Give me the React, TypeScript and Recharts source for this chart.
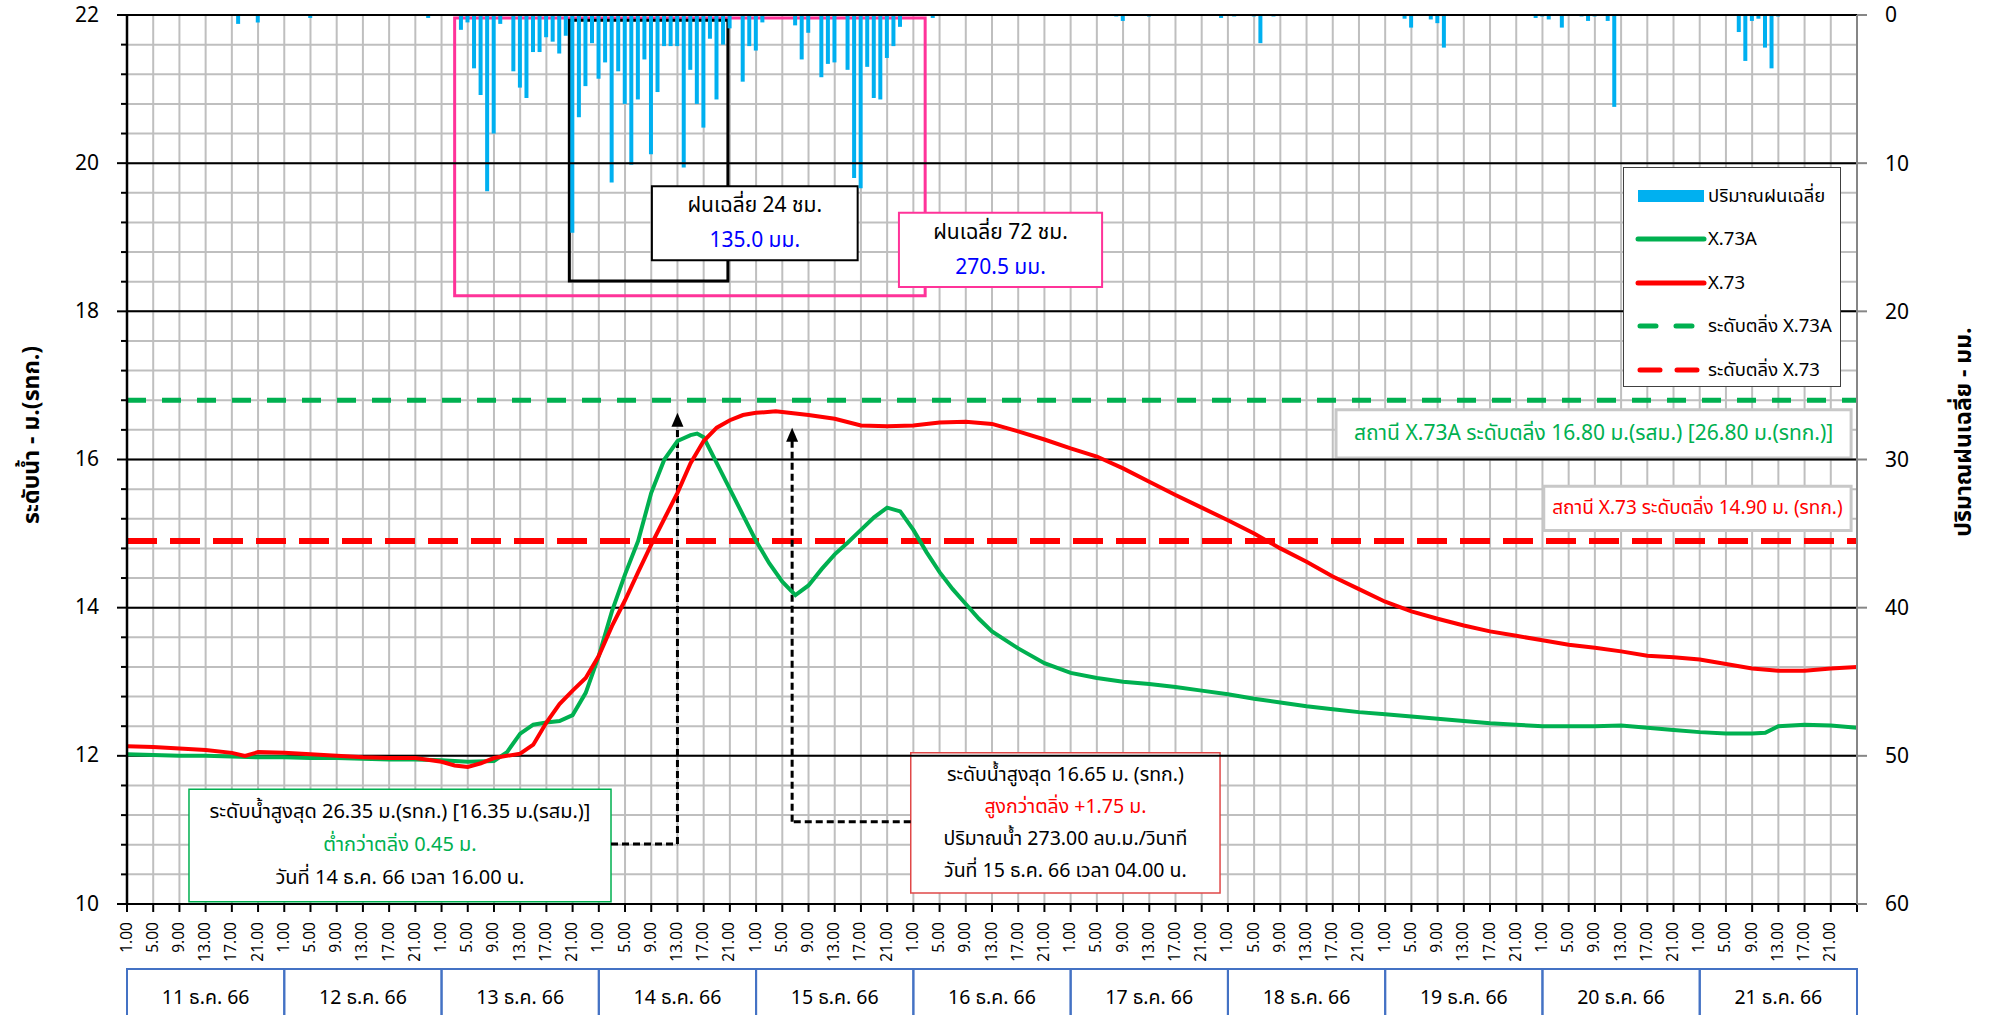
import {
  Bar,
  CartesianGrid,
  ComposedChart,
  Legend,
  Line,
  ReferenceArea,
  ReferenceDot,
  ReferenceLine,
  XAxis,
  YAxis
} from 'recharts'

// hourly x axis: 0 = 11 ธ.ค. 66 01.00, 264 = 22 ธ.ค. 66 01.00
const HOURS = 264

const dayLabels = [
  '11 ธ.ค. 66',
  '12 ธ.ค. 66',
  '13 ธ.ค. 66',
  '14 ธ.ค. 66',
  '15 ธ.ค. 66',
  '16 ธ.ค. 66',
  '17 ธ.ค. 66',
  '18 ธ.ค. 66',
  '19 ธ.ค. 66',
  '20 ธ.ค. 66',
  '21 ธ.ค. 66'
]

// rainfall (mm), only the hours with rain
const rainHours = [
  17, 20, 28, 46, 51, 52, 53, 54, 55, 56, 57, 59, 60, 61, 62, 63, 64, 65, 66, 67, 68, 69, 70, 71, 72,
  73, 74, 75, 76, 77, 78, 79, 80, 81, 82, 83, 84, 85, 86, 87, 88, 89, 90, 91, 92, 94, 95, 96, 97, 102,
  103, 104, 106, 107, 108, 110, 111, 112, 113, 114, 115, 116, 117, 118, 123, 151, 152, 156, 167, 169,
  172, 173, 175, 195, 196, 199, 200, 201, 215, 216, 217, 219, 222, 223, 224, 226, 227, 246, 247, 248,
  249, 250, 251, 252
]
const rainMm = [
  0.6, 0.5, 0.2, 0.2, 1.0, 0.5, 3.6, 5.4, 11.9, 8.0, 0.6, 3.8, 4.9, 5.6, 2.5, 2.5, 1.5, 1.8, 2.6, 1.4,
  14.7, 6.9, 4.8, 1.9, 4.3, 3.2, 11.3, 3.8, 6.0, 10.1, 5.7, 3.0, 9.4, 5.2, 2.1, 2.1, 2.1, 10.3, 3.7, 6.0,
  7.6, 1.6, 5.7, 2.0, 0.9, 4.5, 2.1, 2.4, 0.5, 0.7, 3.0, 1.2, 4.2, 3.3, 3.2, 3.7, 11.0, 11.7, 3.5, 5.6,
  5.7, 2.9, 2.1, 0.8, 0.2, 0.1, 0.4, 0.1, 0.2, 0.1, 0.1, 1.9, 0.1, 0.25, 0.85, 0.3, 0.55, 2.2, 0.2, 0.1,
  0.3, 0.85, 0.1, 0.4, 0.1, 0.4, 6.2, 1.15, 3.1, 0.4, 0.25, 2.2, 3.6, 0.1
]

// X.73A water level (m)
const greenHours = [
  0, 4, 8, 12, 16, 20, 24, 28, 32, 36, 40, 44, 48, 52, 56, 58, 60, 62, 64, 66, 68, 70, 72, 74, 76, 78,
  80, 82, 84, 86, 87, 88, 90, 92, 94, 96, 98, 100, 102, 104, 106, 108, 110, 112, 114, 116, 118, 120,
  122, 124, 126, 128, 130, 132, 136, 140, 144, 148, 152, 156, 160, 164, 168, 172, 176, 180, 184, 188,
  192, 196, 200, 204, 208, 212, 216, 220, 224, 228, 232, 236, 240, 244, 248, 250, 252, 256, 260, 264
]
const greenLevels = [
  12.02, 12.01, 12.0, 12.0, 11.99, 11.98, 11.98, 11.97, 11.97, 11.96, 11.95, 11.95, 11.94, 11.92,
  11.93, 12.05, 12.3, 12.42, 12.45, 12.47, 12.55, 12.85, 13.35, 13.95, 14.45, 14.9, 15.55, 16.0, 16.25,
  16.33, 16.35, 16.3, 15.95, 15.6, 15.25, 14.9, 14.6, 14.35, 14.17, 14.3, 14.52, 14.72, 14.88, 15.05,
  15.22, 15.35, 15.3, 15.05, 14.75, 14.48, 14.25, 14.05, 13.85, 13.68, 13.45, 13.25, 13.12, 13.05,
  13.0, 12.97, 12.93, 12.88, 12.83, 12.77, 12.72, 12.67, 12.63, 12.59, 12.56, 12.53, 12.5, 12.47,
  12.44, 12.42, 12.4, 12.4, 12.4, 12.41, 12.38, 12.35, 12.32, 12.3, 12.3, 12.31, 12.4, 12.42, 12.41,
  12.38
]

// X.73 water level (m)
const redHours = [
  0, 4, 8, 12, 16, 18, 20, 24, 28, 32, 36, 40, 44, 48, 50, 52, 54, 56, 60, 62, 64, 66, 68, 70, 72, 74,
  76, 78, 80, 82, 84, 86, 88, 90, 92, 94, 96, 99, 102, 104, 108, 112, 116, 120, 124, 128, 132, 136,
  140, 144, 148, 152, 156, 160, 164, 168, 172, 176, 180, 184, 188, 192, 196, 200, 204, 208, 212, 216,
  220, 224, 228, 232, 236, 240, 244, 248, 252, 256, 260, 264
]
const redLevels = [
  12.13, 12.12, 12.1, 12.08, 12.04, 12.0, 12.05, 12.04, 12.02, 12.0, 11.98, 11.97, 11.97, 11.92,
  11.87, 11.85, 11.9, 11.97, 12.03, 12.15, 12.45, 12.7, 12.88, 13.05, 13.35, 13.75, 14.1, 14.48,
  14.85, 15.2, 15.55, 15.95, 16.25, 16.43, 16.53, 16.6, 16.63, 16.65, 16.62, 16.6, 16.55, 16.46,
  16.45, 16.46, 16.5, 16.51, 16.48, 16.38, 16.27, 16.15, 16.04, 15.88, 15.7, 15.52, 15.35, 15.18,
  15.0, 14.8, 14.62, 14.42, 14.25, 14.08, 13.95, 13.85, 13.76, 13.68, 13.62, 13.56, 13.5, 13.46,
  13.41, 13.35, 13.33, 13.3, 13.24, 13.18, 13.15, 13.15, 13.18, 13.2
]

const bankX73A = 16.8
const bankX73 = 14.9

const hourTicks = Array.from({ length: HOURS / 4 + 1 }, (_, k) => k * 4)
const dayTicks = dayLabels.map((_, k) => k * 24 + 12)
const levelTicks = Array.from({ length: 31 }, (_, k) => Math.round((10 + k * 0.4) * 10) / 10)
const majorLevels = [12, 14, 16, 18, 20, 22]
const rainTicks = [0, 10, 20, 30, 40, 50, 60]

const rows = Array.from({ length: HOURS + 1 }, (_, i) => ({
  i,
  rain: null as number | null,
  x73a: null as number | null,
  x73: null as number | null
}))
rainHours.forEach((h, k) => (rows[h].rain = rainMm[k]))
greenHours.forEach((h, k) => (rows[h].x73a = greenLevels[k]))
redHours.forEach((h, k) => (rows[h].x73 = redLevels[k]))

const WIDTH = 1991
const HEIGHT = 1015
const MARGIN = { top: 15, right: 14, bottom: 0, left: 27 }
const LEFT_W = 100
const RIGHT_W = 120
const PLOT_W = WIDTH - MARGIN.left - MARGIN.right - LEFT_W - RIGHT_W

// axis ids: the hour axis must sort before the day axis so it sits next to the plot
const HX = 'a_hours'
const DX = 'b_days'

const GREEN = '#00B050'
const RED = '#FF0000'
const RAIN = '#00B0F0'
const PINK = '#FF3399'
const BLUE = '#0000FF'
const FONT = "Tahoma, 'Noto Sans Thai', 'Noto Sans', 'DejaVu Sans', sans-serif"

const LeftTick = ({ x, y, payload }: any) => {
  const v = payload.value
  const major = Math.abs(v - Math.round(v)) < 1e-6 && Math.round(v) % 2 === 0
  return (
    <g>
      <line x1={x - (major ? 10 : 6)} x2={x} y1={y} y2={y} stroke="#000" strokeWidth={2} />
      {major && (
        <text x={x - 28} y={y} textAnchor="end" dominantBaseline="central" fontSize={21} fill="#000">
          {v}
        </text>
      )}
    </g>
  )
}

const HourTick = ({ x, y, payload }: any) => {
  const v = payload.value
  if (v >= HOURS) return null
  const ty = y + 8
  return (
    <text
      x={x}
      y={ty}
      transform={`rotate(-90, ${x}, ${ty})`}
      textAnchor="end"
      dominantBaseline="central"
      fontSize={15.5}
      fill="#000"
    >
      {`${(v % 24) + 1}.00`}
    </text>
  )
}

const DayTick = ({ x, y, index }: any) => {
  const w = PLOT_W / dayLabels.length
  return (
    <g>
      <rect x={x - w / 2} y={y} width={w} height={70} fill="none" stroke="#4472C4" strokeWidth={2} />
      <text x={x} y={y + 29} textAnchor="middle" dominantBaseline="central" fontSize={19.5} fill="#000">
        {dayLabels[index]}
      </text>
    </g>
  )
}

const AxisTitle = ({ viewBox, text, dx, cy }: any) => {
  const cx = viewBox.x + dx
  return (
    <text
      x={cx}
      y={cy}
      transform={`rotate(-90, ${cx}, ${cy})`}
      textAnchor="middle"
      dominantBaseline="central"
      fontSize={23}
      fontWeight="bold"
      fill="#000"
    >
      {text}
    </text>
  )
}

const BoxText = ({ viewBox, lines, fontSize = 18, gap = 32 }: any) => {
  const { x, y, width, height } = viewBox
  const cx = x + width / 2
  const start = y + height / 2 - ((lines.length - 1) * gap) / 2
  return (
    <g>
      {lines.map((l: any, k: number) => (
        <text
          key={k}
          x={cx}
          y={start + k * gap}
          textAnchor="middle"
          dominantBaseline="central"
          fontSize={fontSize}
          fill={l.color}
        >
          {l.text}
        </text>
      ))}
    </g>
  )
}

const ArrowUp = ({ cx, cy }: any) => (
  <path d={`M${cx},${cy} L${cx - 6},${cy + 14} L${cx + 6},${cy + 14} Z`} fill="#000" />
)

const legendItems = [
  { name: 'ปริมาณฝนเฉลี่ย', color: RAIN, kind: 'bar' },
  { name: 'X.73A', color: GREEN, kind: 'line' },
  { name: 'X.73', color: RED, kind: 'line' },
  { name: 'ระดับตลิ่ง X.73A', color: GREEN, kind: 'dash' },
  { name: 'ระดับตลิ่ง X.73', color: RED, kind: 'dash' }
]

const LegendBox = () => (
  <div
    style={{
      width: 218,
      height: 220,
      boxSizing: 'border-box',
      border: '1.5px solid #404040',
      background: '#fff',
      fontFamily: FONT,
      fontSize: 18.5,
      color: '#000',
      paddingTop: 6
    }}
  >
    {legendItems.map((it) => (
      <div key={it.name} style={{ display: 'flex', alignItems: 'center', height: 43.5, whiteSpace: 'nowrap' }}>
        <svg width={84} height={14} style={{ marginLeft: 10, flexShrink: 0 }}>
          {it.kind === 'bar' && <rect x={4} y={1} width={66} height={12} fill={it.color} />}
          {it.kind === 'line' && (
            <line x1={4} x2={70} y1={7} y2={7} stroke={it.color} strokeWidth={5} strokeLinecap="round" />
          )}
          {it.kind === 'dash' && (
            <line
              x1={6}
              x2={70}
              y1={7}
              y2={7}
              stroke={it.color}
              strokeWidth={5}
              strokeLinecap="round"
              strokeDasharray={it.color === GREEN ? '16 20' : '20 17'}
            />
          )}
        </svg>
        <span style={{ marginLeft: -10 }}>{it.name}</span>
      </div>
    ))}
  </div>
)

const App = () => {
  return (
    <div style={{ position: 'absolute', left: 0, top: 0, fontFamily: FONT, background: '#fff' }}>
      <ComposedChart width={WIDTH} height={HEIGHT} data={rows} margin={MARGIN}>
        <CartesianGrid xAxisId={HX} yAxisId="left" stroke="#BFBFBF" strokeWidth={2} />
        <XAxis
          xAxisId={HX}
          type="number"
          dataKey="i"
          domain={[0, HOURS]}
          ticks={hourTicks}
          interval={0}
          allowDataOverflow
          height={65}
          stroke="#000"
          strokeWidth={2}
          tickSize={8}
          tick={<HourTick />}
        />
        <XAxis
          xAxisId={DX}
          type="number"
          dataKey="i"
          domain={[0, HOURS]}
          ticks={dayTicks}
          interval={0}
          height={46}
          axisLine={false}
          tickLine={false}
          tickSize={0}
          tickMargin={0}
          tick={<DayTick />}
        />
        <YAxis
          yAxisId="left"
          orientation="left"
          type="number"
          domain={[10, 22]}
          ticks={levelTicks}
          interval={0}
          allowDataOverflow
          width={LEFT_W}
          stroke="#000"
          strokeWidth={2.5}
          tickLine={false}
          tickSize={0}
          tickMargin={0}
          tick={<LeftTick />}
          label={<AxisTitle text="ระดับน้ำ  -  ม.(รทก.)" dx={5} cy={435} />}
        />
        <YAxis
          yAxisId="rain"
          orientation="right"
          type="number"
          domain={[0, 60]}
          ticks={rainTicks}
          interval={0}
          reversed
          allowDataOverflow
          width={RIGHT_W}
          stroke="#868686"
          strokeWidth={2}
          tickSize={10}
          tickMargin={18}
          tick={{ fill: '#000', fontSize: 21 }}
          label={<AxisTitle text="ปริมาณฝนเฉลี่ย  -  มม." dx={107} cy={432} />}
        />

        {majorLevels.map((v) => (
          <ReferenceLine key={v} xAxisId={HX} yAxisId="left" y={v} stroke="#000" strokeWidth={2} />
        ))}

        <ReferenceLine
          xAxisId={HX}
          yAxisId="left"
          y={bankX73A}
          stroke={GREEN}
          strokeWidth={5}
          strokeDasharray="19 16"
        />
        <ReferenceLine
          xAxisId={HX}
          yAxisId="left"
          y={bankX73}
          stroke={RED}
          strokeWidth={6}
          strokeDasharray="30 13"
        />

        <Bar
          xAxisId={HX}
          yAxisId="rain"
          dataKey="rain"
          name="ปริมาณฝนเฉลี่ย"
          fill={RAIN}
          barSize={4}
          isAnimationActive={false}
        />

        {/* 72 hr and 24 hr rain windows */}
        <ReferenceArea
          xAxisId={HX}
          yAxisId="left"
          x1={50}
          x2={121.8}
          y1={18.21}
          y2={21.96}
          fill="none"
          stroke={PINK}
          strokeWidth={3}
        />
        <ReferenceArea
          xAxisId={HX}
          yAxisId="left"
          x1={67.5}
          x2={91.7}
          y1={18.41}
          y2={21.93}
          fill="none"
          stroke="#000"
          strokeWidth={3}
        />
        <ReferenceArea
          xAxisId={HX}
          yAxisId="left"
          x1={80.1}
          x2={111.5}
          y1={18.69}
          y2={19.69}
          fill="#fff"
          fillOpacity={1}
          stroke="#000"
          strokeWidth={2}
          label={
            <BoxText
              fontSize={21}
              gap={35}
              lines={[
                { text: 'ฝนเฉลี่ย 24 ชม.', color: '#000' },
                { text: '135.0 มม.', color: BLUE }
              ]}
            />
          }
        />
        <ReferenceArea
          xAxisId={HX}
          yAxisId="left"
          x1={117.8}
          x2={148.8}
          y1={18.33}
          y2={19.33}
          fill="#fff"
          fillOpacity={1}
          stroke={PINK}
          strokeWidth={2}
          label={
            <BoxText
              fontSize={21}
              gap={35}
              lines={[
                { text: 'ฝนเฉลี่ย 72 ชม.', color: '#000' },
                { text: '270.5 มม.', color: BLUE }
              ]}
            />
          }
        />

        {/* bank level notes */}
        <ReferenceArea
          xAxisId={HX}
          yAxisId="left"
          x1={184.5}
          x2={263.1}
          y1={16.02}
          y2={16.67}
          fill="#fff"
          fillOpacity={1}
          stroke="#C8C8C8"
          strokeWidth={3}
          label={
            <BoxText
              fontSize={21}
              lines={[{ text: 'สถานี X.73A ระดับตลิ่ง 16.80 ม.(รสม.) [26.80 ม.(รทก.)]', color: GREEN }]}
            />
          }
        />
        <ReferenceArea
          xAxisId={HX}
          yAxisId="left"
          x1={216.2}
          x2={263.1}
          y1={15.04}
          y2={15.64}
          fill="#fff"
          fillOpacity={1}
          stroke="#C8C8C8"
          strokeWidth={3}
          label={
            <BoxText fontSize={19} lines={[{ text: 'สถานี X.73 ระดับตลิ่ง 14.90 ม. (รทก.)', color: RED }]} />
          }
        />

        {/* peak notes */}
        <ReferenceArea
          xAxisId={HX}
          yAxisId="left"
          x1={9.46}
          x2={73.86}
          y1={10.03}
          y2={11.55}
          fill="#fff"
          fillOpacity={1}
          stroke={GREEN}
          strokeWidth={1.5}
          label={
            <BoxText
              fontSize={20}
              gap={33}
              lines={[
                { text: 'ระดับน้ำสูงสุด 26.35 ม.(รทก.) [16.35 ม.(รสม.)]', color: '#000' },
                { text: 'ต่ำกว่าตลิ่ง 0.45 ม.', color: GREEN },
                { text: 'วันที่ 14 ธ.ค. 66 เวลา 16.00 น.', color: '#000' }
              ]}
            />
          }
        />
        <ReferenceArea
          xAxisId={HX}
          yAxisId="left"
          x1={119.6}
          x2={166.8}
          y1={10.15}
          y2={12.04}
          fill="#fff"
          fillOpacity={1}
          stroke="#E04848"
          strokeWidth={1.5}
          label={
            <BoxText
              fontSize={19.5}
              gap={32}
              lines={[
                { text: 'ระดับน้ำสูงสุด 16.65 ม. (รทก.)', color: '#000' },
                { text: 'สูงกว่าตลิ่ง  +1.75 ม.', color: RED },
                { text: 'ปริมาณน้ำ 273.00 ลบ.ม./วินาที', color: '#000' },
                { text: 'วันที่ 15 ธ.ค. 66 เวลา 04.00 น.', color: '#000' }
              ]}
            />
          }
        />

        {/* dashed pointers to the peaks */}
        <ReferenceLine
          xAxisId={HX}
          yAxisId="left"
          segment={[
            { x: 73.86, y: 10.81 },
            { x: 84, y: 10.81 }
          ]}
          stroke="#000"
          strokeWidth={3}
          strokeDasharray="7 4"
        />
        <ReferenceLine
          xAxisId={HX}
          yAxisId="left"
          segment={[
            { x: 84, y: 10.81 },
            { x: 84, y: 16.45 }
          ]}
          stroke="#000"
          strokeWidth={3}
          strokeDasharray="7 4"
        />
        <ReferenceDot xAxisId={HX} yAxisId="left" x={84} y={16.63} r={0} shape={<ArrowUp />} />
        <ReferenceLine
          xAxisId={HX}
          yAxisId="left"
          segment={[
            { x: 119.6, y: 11.11 },
            { x: 101.5, y: 11.11 }
          ]}
          stroke="#000"
          strokeWidth={3}
          strokeDasharray="7 4"
        />
        <ReferenceLine
          xAxisId={HX}
          yAxisId="left"
          segment={[
            { x: 101.5, y: 11.11 },
            { x: 101.5, y: 16.25 }
          ]}
          stroke="#000"
          strokeWidth={3}
          strokeDasharray="7 4"
        />
        <ReferenceDot xAxisId={HX} yAxisId="left" x={101.5} y={16.43} r={0} shape={<ArrowUp />} />

        <Line
          xAxisId={HX}
          yAxisId="left"
          type="linear"
          dataKey="x73a"
          name="X.73A"
          stroke={GREEN}
          strokeWidth={4}
          dot={false}
          connectNulls
          isAnimationActive={false}
        />
        <Line
          xAxisId={HX}
          yAxisId="left"
          type="linear"
          dataKey="x73"
          name="X.73"
          stroke={RED}
          strokeWidth={4}
          dot={false}
          connectNulls
          isAnimationActive={false}
        />

        <Legend
          layout="vertical"
          align="center"
          verticalAlign="middle"
          content={<LegendBox />}
          wrapperStyle={{ position: 'absolute', left: 1623, top: 167, width: 218, height: 220 }}
        />
      </ComposedChart>
    </div>
  )
}

export default App
